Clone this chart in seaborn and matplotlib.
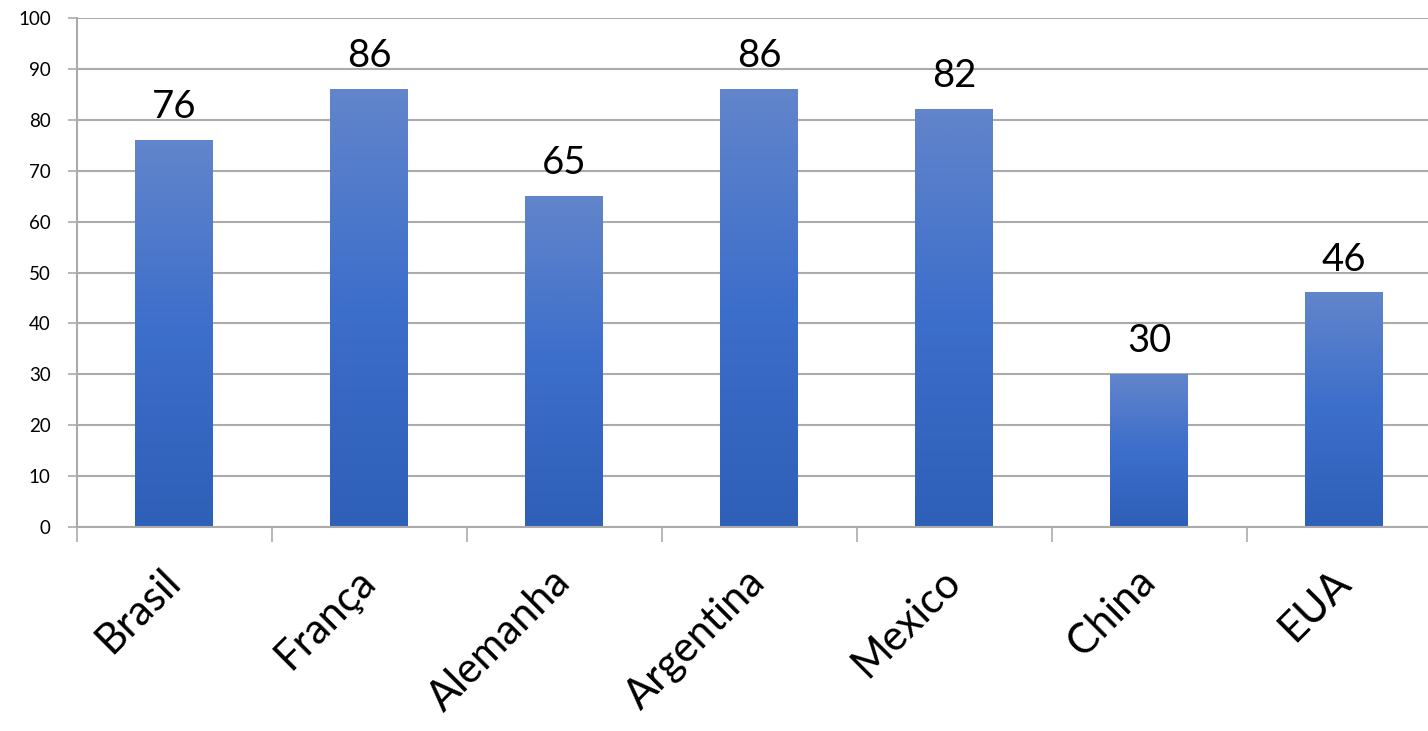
import numpy as np
import matplotlib
matplotlib.use("Agg")
import matplotlib.pyplot as plt
from matplotlib.colors import LinearSegmentedColormap
from matplotlib.ticker import FixedLocator
import seaborn as sns
import pandas as pd

countries = ["Brasil", "França", "Alemanha", "Argentina", "Mexico", "China", "EUA"]
values = [76, 86, 65, 86, 82, 30, 46]
y_ticks = list(range(0, 101, 10))

sns.set_theme(style="white")
plt.rcParams['font.family'] = ['Lato', 'DejaVu Sans']

W, H = 1428, 731
fig = plt.figure(figsize=(W / 100, H / 100), dpi=100)
left_px, right_px, top_px, bottom_px = 76.5, 1441.5, 18, 527
ax = fig.add_axes([left_px / W, (H - bottom_px) / H,
                   (right_px - left_px) / W, (bottom_px - top_px) / H])

df = pd.DataFrame({"country": countries, "value": values})
sns.barplot(data=df, x="country", y="value", color="#4472C4", width=0.4,
            ax=ax, zorder=3, saturation=1)

cmap = LinearSegmentedColormap.from_list(
    "grad", ["#2E60B8", "#3C6ECB", "#6285CB"])
grad = np.linspace(0, 1, 256).reshape(-1, 1)
for p in ax.patches:
    x0, w, h = p.get_x(), p.get_width(), p.get_height()
    p.set_facecolor("none")
    p.set_edgecolor("none")
    ax.imshow(grad, cmap=cmap, origin="lower", aspect="auto",
              extent=[x0, x0 + w, 0, h], zorder=3, interpolation="bilinear")
    ax.annotate(f"{int(round(h))}", (x0 + w / 2, h), xytext=(0, 16),
                textcoords="offset points", ha="center", va="baseline",
                fontsize=27.5, color="black")

ax.set_xlim(-0.5, len(countries) - 0.5)
ax.set_ylim(0, 100)
ax.set_yticks(y_ticks)
ax.set_xlabel("")
ax.set_ylabel("")

grid_c = "#ABABAB"
ax.yaxis.grid(True, color=grid_c, linewidth=1.5, zorder=0)
ax.set_axisbelow(True)
for s in ["top", "right"]:
    ax.spines[s].set_visible(False)
for s in ["left", "bottom"]:
    ax.spines[s].set_color(grid_c)
    ax.spines[s].set_linewidth(1.5)
    ax.spines[s].set_zorder(4)

ax.xaxis.set_minor_locator(FixedLocator(np.arange(-0.5, len(countries), 1.0)))
ax.tick_params(axis="x", which="minor", bottom=True, length=11, width=1.2,
               color=grid_c, direction="out")
ax.tick_params(axis="x", which="major", bottom=True, length=0, pad=35)
ax.tick_params(axis="y", which="major", left=True, length=6.5, width=1.2,
               color=grid_c, direction="out", pad=12, labelsize=13.5,
               labelcolor="black")
for lbl in ax.get_xticklabels():
    lbl.set_rotation(45)
    lbl.set_ha("right")
    lbl.set_va("center")
    lbl.set_rotation_mode("anchor")
    lbl.set_fontsize(30)
    lbl.set_color("black")

fig.savefig("out.png", dpi=100, facecolor="white")
